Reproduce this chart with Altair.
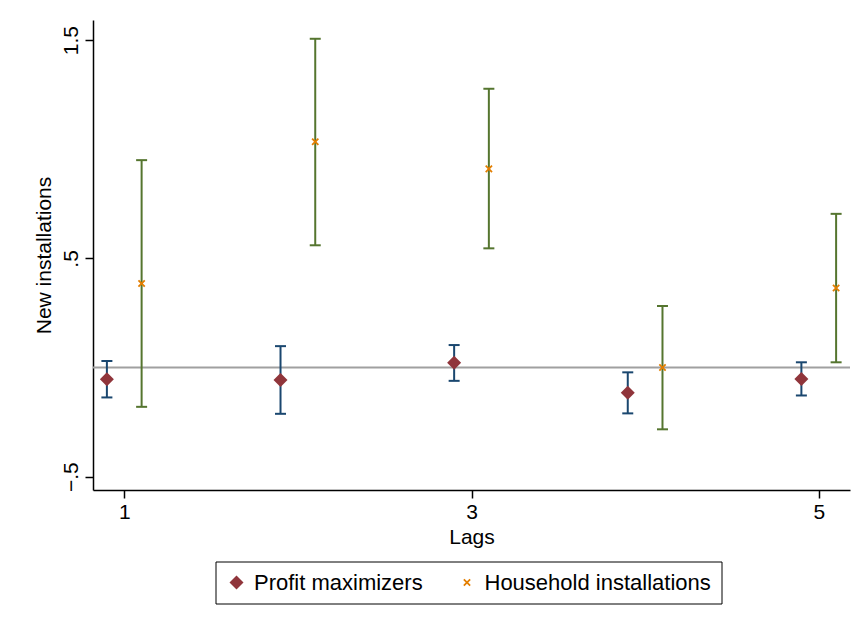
import altair as alt
import pandas as pd

lags = [1, 2, 3, 4, 5]
series_names = ["Profit maximizers", "Household installations"]

profit_est = [-0.054, -0.057, 0.022, -0.116, -0.053]
profit_lo = [-0.137, -0.212, -0.061, -0.210, -0.128]
profit_hi = [0.030, 0.098, 0.103, -0.022, 0.024]

house_est = [0.385, 1.034, 0.910, 0.000, 0.364]
house_lo = [-0.180, 0.560, 0.546, -0.283, 0.024]
house_hi = [0.950, 1.506, 1.277, 0.282, 0.704]

x_ticks = [1, 3, 5]
y_ticks = [-0.5, 0.5, 1.5]

offsets = [-0.1, 0.1]
point_colors = ["#90353b", "#e37e00"]
ci_colors = ["#1a476f", "#55752f"]
# small "x" marker drawn as two thin filled bars (symbol units: +-1 = half of sqrt(size))
x_shape = ("M-0.36,-0.54L0.54,0.36L0.36,0.54L-0.54,-0.36Z"
           "M0.36,-0.54L0.54,-0.36L-0.36,0.54L-0.54,0.36Z")

rows = []
for name, off, ccol, est, lo, hi in zip(series_names, offsets, ci_colors,
                                        [profit_est, house_est],
                                        [profit_lo, house_lo],
                                        [profit_hi, house_hi]):
    for i, lag in enumerate(lags):
        rows.append(dict(series=name, lag=lag, pos=lag + off, est=est[i],
                         lo=lo[i], hi=hi[i], cicolor=ccol))
df = pd.DataFrame(rows)
zero_df = pd.DataFrame({"val": [0.0]})

FONT = "Liberation Sans"
xscale = alt.Scale(domain=[0.82, 5.18], nice=False, zero=False)
yscale = alt.Scale(domain=[-0.561, 1.592], nice=False, zero=False)

xaxis = alt.Axis(values=x_ticks, title="Lags", labelPadding=3, titlePadding=4,
                 format="d")
yaxis = alt.Axis(values=y_ticks, title="New installations", labelAngle=270,
                 labelAlign="center", labelBaseline="bottom", labelPadding=4,
                 titlePadding=6,
                 labelExpr="replace(format(datum.value, '.1f'), '0.', '.')")


def X(field):
    return alt.X(field, scale=xscale, axis=xaxis)


def Y(field):
    return alt.Y(field, scale=yscale, axis=yaxis)


zero = alt.Chart(zero_df).mark_rule(color="#a0a0a0", strokeWidth=2).encode(
    y=Y("val:Q"))

rules = alt.Chart(df).mark_rule(strokeWidth=2).encode(
    x=X("pos:Q"), y=Y("lo:Q"), y2="hi:Q",
    color=alt.Color("cicolor:N", scale=None))

caps = alt.Chart(df).transform_fold(["lo", "hi"], as_=["which", "val"]).mark_tick(
    orient="horizontal", size=11, thickness=2).encode(
    x=X("pos:Q"), y=Y("val:Q"),
    color=alt.Color("cicolor:N", scale=None))

legend = alt.Legend(title=None, orient="none", legendX=122.5, legendY=541.5,
                    direction="horizontal", strokeColor="black", padding=10,
                    labelFont=FONT, labelFontSize=22, labelColor="black",
                    labelLimit=400, columnPadding=32.5, labelOffset=6.5,
                    symbolOpacity=1, symbolStrokeWidth=0, symbolSize=196)

points = alt.Chart(df).mark_point(filled=True, opacity=1, size=196).encode(
    x=X("pos:Q"), y=Y("est:Q"),
    color=alt.Color("series:N", scale=alt.Scale(domain=series_names, range=point_colors),
                    legend=legend),
    shape=alt.Shape("series:N", scale=alt.Scale(domain=series_names,
                                                range=["diamond", x_shape]),
                    legend=legend),
)

chart = alt.layer(zero, rules, caps, points).properties(
    width=757, height=470,
    padding={"left": 93, "top": 20, "right": 15, "bottom": 140},
    autosize=alt.AutoSizeParams(type="none"),
    background="white",
).configure_view(stroke=None).configure_axis(
    grid=False, domainColor="black", domainWidth=1.5, tickColor="black",
    tickWidth=1.5, tickSize=8, labelFont=FONT, labelFontSize=21,
    labelColor="black", titleFont=FONT, titleFontSize=21,
    titleFontWeight="normal", titleColor="black",
).configure_point(opacity=1, fillOpacity=1).configure_mark(opacity=1).configure_legend(
    symbolOpacity=1,
)

chart.save("out.html", embed_options={"renderer": "svg", "actions": False})
